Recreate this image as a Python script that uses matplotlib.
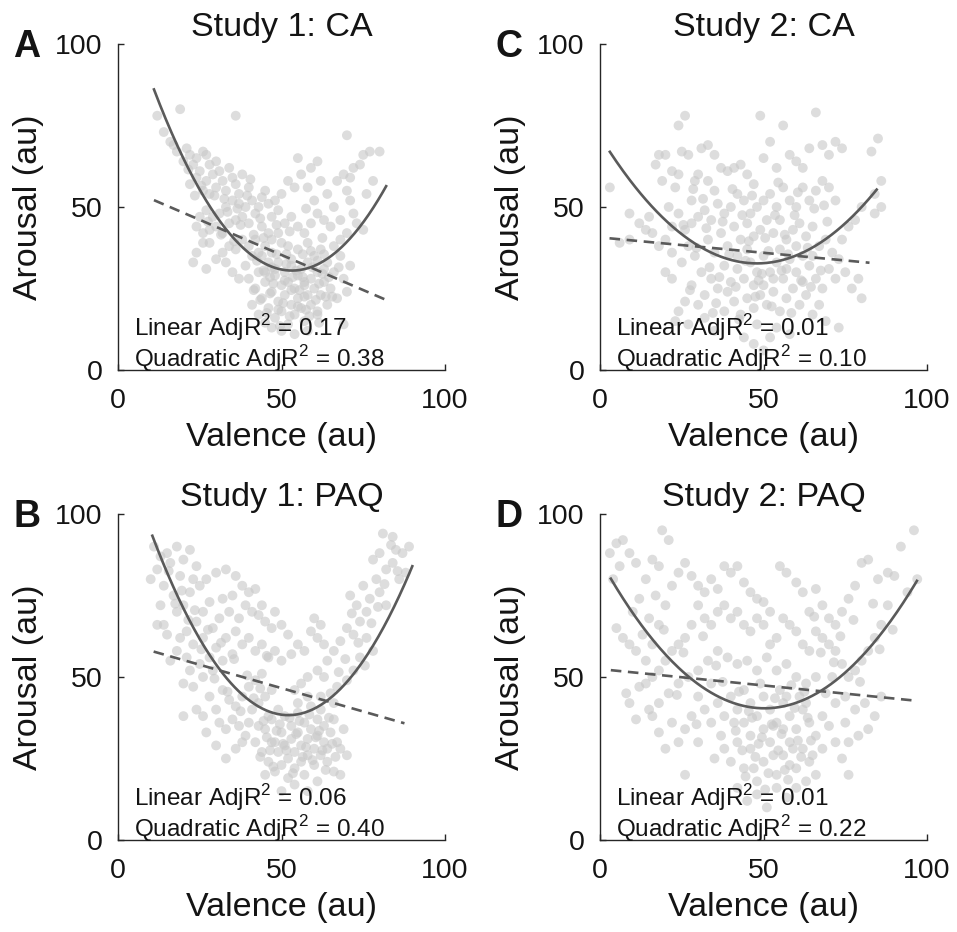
import numpy as np
import matplotlib
matplotlib.use("Agg")
import matplotlib.pyplot as plt

plt.rcParams['font.family'] = ['Liberation Sans', 'DejaVu Sans']
plt.rcParams['mathtext.fontset'] = 'custom'
plt.rcParams['mathtext.rm'] = 'Liberation Sans'

# ---- data (valence, arousal) ----
a_x = [12, 19, 14, 16, 17, 18, 21, 22, 20, 23, 24, 25, 26, 27, 28, 29, 30, 31, 27, 22, 24, 26, 28, 30, 32, 33, 34, 35, 36, 37, 38, 36, 40, 41, 39, 37, 35, 33, 31, 29, 27, 25, 24, 26, 28, 30, 32, 34, 36, 38, 40, 42, 43, 44, 45, 46, 47, 48, 49, 50, 44, 46, 42, 40, 38, 36, 34, 32, 30, 28, 26, 24, 23, 27, 33, 35, 37, 39, 41, 43, 45, 47, 49, 51, 53, 55, 57, 59, 61, 63, 60, 58, 62, 64, 66, 68, 67, 69, 70, 71, 65, 68, 70, 72, 73, 75, 71, 72, 70, 74, 75, 77, 80, 78, 76, 55, 54, 52, 56, 59, 61,
       40, 42, 43, 44, 45, 46, 46, 47, 48, 48, 49, 49, 50, 50, 51, 51, 52, 52, 53, 53, 54, 54, 55, 55, 56, 56, 57, 57, 58, 58, 59, 59, 60, 60, 61, 61, 62, 62, 63, 64, 64, 65, 66, 67, 68, 69, 70, 71, 44, 47, 52, 55, 58, 50, 53, 48, 57, 63, 45, 66, 69, 58, 61, 50, 54, 47, 43, 41,
       43.5, 45.5, 47.5, 49.5, 51.5, 53.5, 55.5, 57.5, 59.5, 61.5, 63.5, 44.5, 46.5, 48.5, 50.5, 52.5, 54.5, 56.5, 58.5, 60.5, 62.5, 64.5, 45, 47, 49, 51, 53, 55, 57, 59, 61, 63, 42.5, 65.5, 67.5, 41.5, 46.5, 51.5, 56.5, 61.5, 21.5, 25.5, 29.5, 33.5, 37.5, 41.5, 23.5, 27.5, 31.5, 35.5, 39.5, 43.5, 32.5, 36.5, 40.5, 44.5, 48.5, 52.5, 57.5, 62.5]
a_y = [78, 80, 73, 70, 69, 67, 68, 66, 64, 63, 65, 61, 67, 66, 63, 60, 64, 61, 58, 57, 59, 55, 54, 56, 58, 55, 62, 59, 57, 54, 60, 78, 56, 52, 50, 51, 52, 50, 48, 47, 49, 47, 44, 42, 43, 44, 42, 45, 46, 47, 45, 48, 50, 53, 55, 51, 47, 52, 49, 54, 44, 42, 40, 38, 40, 37, 38, 36, 34, 39, 39, 36, 33, 31, 33, 30, 28, 32, 35, 36, 38, 40, 42, 45, 47, 44, 42, 45, 48, 46, 52, 56, 58, 54, 50, 46, 58, 60, 55, 52, 44, 40, 42, 48, 45, 43, 59, 62, 72, 63, 66, 67, 67, 58, 54, 65, 56, 58, 60, 62, 64,
       28, 25, 30, 22, 27, 33, 19, 24, 29, 16, 21, 33, 26, 18, 30, 23, 14, 27, 20, 34, 25, 17, 29, 22, 31, 19, 26, 15, 23, 33, 28, 20, 25, 35, 18, 30, 23, 37, 27, 20, 33, 25, 30, 22, 35, 28, 24, 32, 35, 36, 38, 37, 39, 39, 32, 31, 27, 31, 30, 38, 14, 12, 17, 12, 11, 13, 17, 20,
       21.5, 17.5, 26.5, 13.5, 32.5, 28.5, 24.5, 18.5, 31.5, 26.5, 22.5, 30.5, 23.5, 35.5, 20.5, 16.5, 30.5, 35.5, 16.5, 21.5, 29.5, 28.5, 14.5, 31.5, 18.5, 27.5, 24.5, 19.5, 22.5, 36.5, 33.5, 35.5, 33.5, 22.5, 31.5, 24.5, 28.5, 35.5, 28.5, 14.5, 61.5, 56.5, 53.5, 48.5, 44.5, 41.5, 53.5, 45.5, 41.5, 39.5, 53.5, 46.5, 52.5, 49.5, 58.5, 40.5, 44.5, 42.5, 49.5, 40.5]

b_x = [11, 12, 10, 13, 15, 14, 16, 18, 20, 22, 24, 23, 19, 17, 12, 14, 18, 20, 22, 25, 27, 30, 33, 36, 38, 40, 42, 35, 32, 28, 26, 24, 21, 19, 23, 26, 29, 31, 34, 37, 39, 41, 43, 45, 47, 44, 48, 50, 52, 36, 33, 30, 28, 25, 22, 18, 16, 20, 23, 26, 29, 32, 35, 38, 40, 42, 44, 46, 48, 50, 53, 55, 57, 59, 61, 63, 60, 62, 64, 66, 68, 70, 72, 74, 76, 73, 71, 75, 77, 79, 78, 80, 82, 84, 85, 87, 81, 84, 89, 86, 88, 80, 82, 76, 78, 74, 72, 70, 67, 65, 63, 61, 58, 56, 54, 24, 26, 28, 30, 32, 34, 36, 38, 40, 42, 44, 31, 33, 35, 37, 39, 41, 43, 45, 47,
       42, 44, 45, 46, 47, 48, 48, 49, 50, 50, 51, 51, 52, 52, 53, 53, 54, 54, 55, 55, 56, 56, 57, 57, 58, 58, 59, 59, 60, 60, 61, 61, 62, 62, 63, 63, 64, 64, 65, 66, 67, 68, 69, 70, 66, 62, 58, 55, 49, 46, 43, 40, 38, 36, 47, 54, 58, 61, 66, 68, 50, 45, 33, 30, 27, 20, 21, 15, 13,
       43.5, 45.5, 47.5, 49.5, 51.5, 53.5, 55.5, 57.5, 59.5, 61.5, 63.5, 65.5, 44.5, 46.5, 48.5, 50.5, 52.5, 54.5, 56.5, 58.5, 60.5, 62.5, 64.5, 66.5, 15.5, 19.5, 23.5, 27.5, 31.5, 35.5, 39.5, 43.5, 17.5, 21.5, 25.5, 29.5, 33.5, 37.5, 41.5, 45.5, 69.5, 73.5, 77.5, 81.5, 85.5, 71.5, 75.5, 79.5, 83.5, 67.5]
b_y = [90, 83, 80, 87, 88, 78, 85, 90, 86, 89, 84, 80, 81, 75, 66, 66, 70, 72, 76, 78, 80, 82, 83, 81, 78, 76, 77, 75, 74, 73, 70, 67, 64, 62, 60, 62, 65, 68, 70, 68, 72, 70, 69, 67, 65, 72, 70, 66, 63, 64, 62, 59, 56, 54, 52, 58, 55, 48, 47, 50, 52, 55, 57, 60, 62, 58, 60, 56, 58, 55, 57, 60, 58, 64, 62, 60, 68, 66, 55, 58, 61, 65, 63, 67, 70, 72, 75, 78, 74, 80, 86, 88, 83, 85, 89, 88, 94, 93, 90, 80, 82, 76, 72, 62, 58, 56, 52, 49, 47, 45, 50, 52, 50, 48, 46, 40, 38, 44, 40, 46, 43, 41, 44, 47, 49, 51, 36, 34, 37, 35, 32, 40, 42, 44, 46,
       30, 27, 34, 24, 37, 30, 21, 27, 33, 23, 38, 29, 25, 19, 35, 31, 27, 22, 39, 33, 29, 24, 36, 20, 31, 26, 41, 34, 28, 23, 37, 32, 26, 40, 30, 35, 24, 28, 33, 37, 30, 28, 34, 26, 42, 44, 44, 42, 40, 38, 35, 36, 30, 28, 30, 17, 15, 18, 21, 20, 15, 20, 25, 29, 33, 38, 56, 63, 72,
       25.5, 31.5, 22.5, 35.5, 27.5, 20.5, 36.5, 28.5, 24.5, 33.5, 21.5, 29.5, 36.5, 27.5, 33.5, 29.5, 37.5, 32.5, 25.5, 38.5, 31.5, 27.5, 37.5, 25.5, 82.5, 76.5, 70.5, 64.5, 60.5, 55.5, 50.5, 46.5, 72.5, 67.5, 58.5, 49.5, 45.5, 39.5, 43.5, 56.5, 55.5, 60.5, 66.5, 78.5, 82.5, 69.5, 53.5, 71.5, 90.5, 51.5]

c_x = [3, 6, 9, 9, 12, 14, 15, 16, 17, 18, 19, 20, 21, 22, 23, 24, 25, 26, 24, 27, 28, 29, 30, 31, 33, 35, 33, 35, 37, 39, 41, 43, 45, 47, 49, 50, 52, 54, 56, 58, 60, 62, 64, 66, 68, 70, 72, 74, 83, 85, 86, 84, 86, 84, 80, 78, 76, 74, 72, 70, 68, 66, 64, 62, 60, 58, 56, 54, 52, 50, 48, 46, 44, 42, 40, 38, 36, 34, 32, 30, 28, 26, 24, 22, 20, 18, 22, 25, 27, 29, 31, 33, 35, 37, 39, 41, 43, 45, 47, 49, 51, 53, 55, 57, 59, 61, 63, 65, 67, 69, 71, 73, 75, 80, 79, 77, 72, 70, 68, 66, 64, 62, 60, 58, 56, 54, 52, 50, 48, 46, 44, 42, 40, 38, 36, 34, 32, 30, 28, 26, 24, 22, 20, 23, 27, 32, 35, 38, 41, 43, 45, 47, 49, 51, 53, 55, 57, 59, 61, 63, 65, 67, 69, 73, 44, 47, 50, 52, 48, 54, 58, 42, 55, 60, 45, 50, 39, 62, 53, 47, 57, 65,
       25.5, 29.5, 33.5, 37.5, 41.5, 45.5, 49.5, 53.5, 57.5, 61.5, 65.5, 69.5, 27.5, 31.5, 35.5, 39.5, 43.5, 47.5, 51.5, 55.5, 59.5, 63.5, 67.5, 28.5, 32.5, 36.5, 40.5, 44.5, 48.5, 52.5, 56.5, 60.5, 64.5, 68.5, 34.5, 42.5, 50.5, 58.5, 46.5, 54.5]
c_y = [56, 39, 40, 48, 45, 43, 47, 42, 63, 66, 58, 66, 50, 61, 56, 75, 67, 78, 60, 66, 52, 58, 60, 68, 69, 66, 58, 55, 62, 61, 62, 63, 60, 57, 78, 65, 70, 62, 75, 66, 64, 62, 68, 79, 69, 66, 70, 68, 67, 71, 58, 54, 50, 48, 50, 46, 44, 40, 52, 56, 58, 55, 52, 56, 50, 52, 56, 50, 54, 52, 50, 48, 52, 54, 50, 48, 51, 46, 49, 47, 45, 43, 48, 44, 40, 38, 36, 33, 38, 35, 30, 40, 36, 42, 38, 44, 40, 45, 41, 43, 46, 42, 46, 40, 43, 45, 41, 44, 38, 40, 36, 34, 30, 22, 28, 25, 28, 31, 25, 28, 32, 35, 30, 34, 28, 33, 30, 26, 30, 33, 28, 31, 27, 32, 25, 28, 23, 20, 26, 21, 18, 28, 30, 15, 14, 16, 12, 18, 21, 17, 22, 19, 23, 20, 24, 18, 22, 25, 20, 23, 17, 20, 15, 13, 10, 8, 6, 10, 14, 13, 11, 35, 37, 38, 37, 35, 24, 27, 28, 26, 31, 35,
       44.5, 37.5, 31.5, 45.5, 25.5, 39.5, 29.5, 47.5, 35.5, 27.5, 49.5, 45.5, 24.5, 52.5, 20.5, 35.5, 47.5, 22.5, 36.5, 30.5, 47.5, 37.5, 30.5, 55.5, 43.5, 28.5, 55.5, 33.5, 27.5, 19.5, 41.5, 54.5, 25.5, 50.5, 17.5, 15.5, 40.5, 17.5, 53.5, 57.5]

d_x = [3, 4, 5, 7, 6, 9, 11, 5, 7, 9, 10, 12, 14, 16, 18, 19, 21, 17, 15, 13, 11, 14, 16, 18, 20, 22, 24, 26, 28, 30, 32, 34, 36, 38, 40, 42, 44, 46, 48, 50, 52, 55, 57, 60, 62, 64, 66, 68, 70, 72, 74, 76, 78, 80, 82, 85, 88, 90, 92, 94, 96, 97, 88, 86, 84, 82, 80, 78, 76, 74, 72, 70, 68, 66, 64, 62, 60, 58, 56, 54, 52, 50, 48, 46, 44, 42, 40, 38, 36, 34, 32, 30, 28, 26, 24, 22, 20, 18, 16, 14, 12, 9, 8, 11, 15, 18, 21, 24, 27, 30, 33, 36, 39, 42, 45, 48, 51, 54, 57, 60, 63, 66, 69, 72, 75, 78, 81, 84, 86, 82, 79, 76, 74, 76, 70, 68, 66, 64, 62, 60, 58, 56, 54, 52, 50, 48, 46, 44, 42, 40, 38, 36, 34, 32, 30, 28, 26, 24, 22, 20, 18, 16,
       38, 40, 42, 44, 46, 48, 50, 52, 54, 56, 58, 60, 62, 64, 66, 42, 45, 48, 51, 54, 57, 60, 63, 46, 50, 53, 56, 59, 61, 55, 35, 30, 26, 44, 49, 57, 63, 68, 72, 71, 75, 34, 37, 41, 53, 58, 65, 47,
       41.5, 43.5, 45.5, 47.5, 49.5, 51.5, 53.5, 55.5, 57.5, 59.5, 61.5, 63.5, 42.5, 44.5, 46.5, 48.5, 50.5, 52.5, 54.5, 56.5, 58.5, 60.5, 62.5, 64.5, 19.5, 25.5, 31.5, 37.5, 67.5, 73.5, 79.5, 85.5, 23.5, 29.5, 35.5, 65.5, 71.5, 77.5, 83.5, 89.5]
d_y = [88, 80, 91, 92, 84, 88, 85, 65, 62, 60, 70, 74, 80, 86, 84, 95, 92, 75, 68, 63, 58, 55, 60, 66, 72, 78, 82, 85, 81, 78, 76, 80, 77, 84, 82, 84, 79, 76, 74, 73, 70, 84, 82, 79, 76, 70, 77, 72, 68, 66, 70, 74, 78, 85, 86, 80, 82, 81, 90, 76, 95, 80, 72, 66, 62, 58, 55, 52, 50, 54, 58, 60, 62, 64, 58, 60, 64, 66, 68, 62, 60, 66, 68, 64, 66, 70, 68, 72, 70, 66, 68, 72, 66, 62, 60, 58, 55, 52, 50, 48, 47, 42, 45, 37, 40, 42, 45, 48, 50, 52, 55, 58, 56, 54, 55, 52, 56, 52, 54, 50, 48, 50, 45, 42, 44, 40, 42, 38, 44, 34, 32, 30, 25, 20, 35, 38, 32, 36, 40, 34, 38, 42, 36, 40, 44, 38, 42, 36, 40, 44, 38, 42, 36, 40, 44, 38, 34, 30, 36, 28, 33, 38,
       28, 24, 30, 22, 28, 18, 24, 30, 20, 26, 30, 22, 28, 24, 20, 16, 12, 14, 10, 16, 13, 16, 18, 32, 34, 26, 34, 28, 44, 46, 25, 30, 20, 46, 48, 44, 42, 28, 30, 50, 36, 48, 32, 36, 35, 23, 26, 22,
       33.5, 27.5, 39.5, 25.5, 31.5, 20.5, 43.5, 32.5, 18.5, 40.5, 25.5, 37.5, 45.5, 19.5, 37.5, 29.5, 15.5, 35.5, 27.5, 21.5, 47.5, 30.5, 45.5, 30.5, 64.5, 57.5, 62.5, 48.5, 57.5, 62.5, 48.5, 58.5, 44.5, 35.5, 53.5, 68.5, 54.5, 67.5, 72.5, 64.5]

# fitted curves: (x start, x end, vertex x, vertex y, curvature)
quad_fits = [(11, 82, 53.2, 30.5, 0.0312),
             (10.5, 90, 52.1, 38.3, 0.0318),
             (3, 84.6, 48.0, 32.7, 0.0169),
             (3.3, 96.9, 50.3, 40.4, 0.0180)]
# linear fits: (x start, y start, x end, y end)
lin_fits = [(11, 52.1, 82, 21.5),
            (10.9, 57.8, 87.6, 35.8),
            (2.9, 40.4, 82.4, 32.9),
            (3.3, 52.1, 96.9, 42.7)]

titles = ['Study 1: CA', 'Study 1: PAQ', 'Study 2: CA', 'Study 2: PAQ']
letters = ['A', 'B', 'C', 'D']
lin_r2 = ['0.17', '0.06', '0.01', '0.01']
quad_r2 = ['0.38', '0.40', '0.10', '0.22']
xs = [a_x, b_x, c_x, d_x]
ys = [a_y, b_y, c_y, d_y]

fig = plt.figure(figsize=(9.57, 9.32), dpi=100)
positions = [(0.1233, 0.603), (0.1233, 0.0987), (0.627, 0.603), (0.627, 0.0987)]
line_col = '#5a5a5a'
txt_col = '#141414'

for i in range(4):
    ax = fig.add_axes([positions[i][0], positions[i][1], 0.3417, 0.3498])
    ax.scatter(xs[i], ys[i], s=50, color='#c8c8c8', alpha=0.62, edgecolors='none', zorder=1)

    x0, x1, vx, vy, k = quad_fits[i]
    xq = np.linspace(x0, x1, 200)
    ax.plot(xq, vy + k * (xq - vx) ** 2, color=line_col, lw=1.9, zorder=3)

    lx0, ly0, lx1, ly1 = lin_fits[i]
    ax.plot([lx0, lx1], [ly0, ly1], color=line_col, lw=1.9, dashes=(4, 2.5), zorder=3)

    ax.set_xlim(0, 100)
    ax.set_ylim(0, 100)
    ax.set_xticks([0, 50, 100])
    ax.set_yticks([0, 50, 100])
    ax.spines['top'].set_visible(False)
    ax.spines['right'].set_visible(False)
    for s in ['left', 'bottom']:
        ax.spines[s].set_color('#262626')
        ax.spines[s].set_linewidth(1.0)
    ax.tick_params(direction='in', length=4, width=1.0, color='#262626',
                   labelsize=20.5, labelcolor=txt_col)
    ax.tick_params(axis='y', pad=11)
    ax.tick_params(axis='x', pad=13)

    ax.set_xlabel('Valence (au)', fontsize=24.5, color=txt_col, va='top')
    ax.set_ylabel('Arousal (au)', fontsize=24.5, color=txt_col)
    ax.xaxis.set_label_coords(0.5, -0.16)
    ax.yaxis.set_label_coords(-0.225, 0.5)
    ax.set_title(titles[i], fontsize=24.5, pad=6, color=txt_col)

    ax.text(5, 10.5, 'Linear AdjR$^2$ = ' + lin_r2[i], fontsize=17.5, color=txt_col)
    ax.text(5, 1.0, 'Quadratic AdjR$^2$ = ' + quad_r2[i], fontsize=17.5, color=txt_col)
    ax.text(-0.32, 0.96, letters[i], transform=ax.transAxes, fontsize=27,
            fontweight='bold', color=txt_col, va='baseline')

plt.savefig('out.png', dpi=100)
